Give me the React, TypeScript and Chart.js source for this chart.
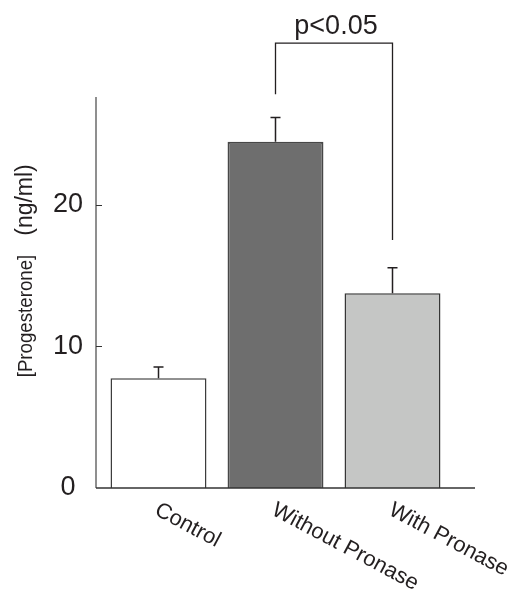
import React, { useEffect, useRef } from "react";
import { Chart, registerables } from "chart.js";

Chart.register(...registerables);

const categories = ["Control", "Without Pronase", "With Pronase"];
const means = [7.75, 24.45, 13.75];
const errors = [0.8, 1.7, 1.8];
const yTicks = [0, 10, 20];
const yMax = 27.6;
const barColors = ["#ffffff", "#6e6e6e", "#c5c6c5"];
const barBorders = ["#3d3d3d", "#474747", "#363636"];
const sigPair = [1, 2];
const sigLabel = "p<0.05";
const sigTopValue = 31.4;
const sigLeftBottom = 27.8;
const sigRightBottom = 17.5;
const yTitleMain = "[Progesterone]";
const yTitleUnit = "(ng/ml)";

const FONT = "'Liberation Sans', Arial, Helvetica, sans-serif";
const TEXT = "#231f20";
const AXIS_X = 96;

const decorPlugin = {
  id: "decor",
  afterDraw(chart: any) {
    const { ctx, chartArea, scales } = chart;
    const xs = scales.x;
    const ys = scales.y;
    ctx.save();

    const y0 = ys.getPixelForValue(0);

    // y axis line
    ctx.strokeStyle = "#6a6a6a";
    ctx.lineWidth = 1.5;
    ctx.beginPath();
    ctx.moveTo(AXIS_X, chartArea.top);
    ctx.lineTo(AXIS_X, y0);
    ctx.stroke();

    // baseline (x axis), extends past last bar
    ctx.strokeStyle = "#333";
    ctx.lineWidth = 1.5;
    ctx.beginPath();
    ctx.moveTo(AXIS_X, y0);
    ctx.lineTo(chartArea.right + 24, y0);
    ctx.stroke();

    // inward tick marks on y axis
    ctx.lineWidth = 1;
    yTicks.forEach((v) => {
      if (v === 0) return;
      const py = Math.round(ys.getPixelForValue(v)) + 0.5;
      ctx.beginPath();
      ctx.moveTo(AXIS_X, py);
      ctx.lineTo(AXIS_X + 6, py);
      ctx.stroke();
    });

    // y axis title (two parts)
    ctx.fillStyle = TEXT;
    ctx.textAlign = "center";
    ctx.textBaseline = "middle";
    ctx.save();
    ctx.translate(26, 316);
    ctx.rotate(-Math.PI / 2);
    ctx.scale(0.89, 1);
    ctx.font = `21px ${FONT}`;
    ctx.fillText(yTitleMain, 0, 0);
    ctx.restore();
    ctx.save();
    ctx.translate(26, 200);
    ctx.rotate(-Math.PI / 2);
    ctx.font = `23px ${FONT}`;
    ctx.fillText(yTitleUnit, 0, 0);
    ctx.restore();

    // error bars (upper only)
    const meta = chart.getDatasetMeta(0);
    ctx.strokeStyle = "#231f20";
    ctx.lineWidth = 1.5;
    meta.data.forEach((bar: any, i: number) => {
      const cx = bar.x;
      const top = ys.getPixelForValue(means[i]);
      const et = ys.getPixelForValue(means[i] + errors[i]);
      ctx.beginPath();
      ctx.moveTo(cx, top);
      ctx.lineTo(cx, et);
      ctx.moveTo(cx - 5, et);
      ctx.lineTo(cx + 5, et);
      ctx.stroke();
    });

    // significance bracket
    const lx = xs.getPixelForValue(sigPair[0]);
    const rx = xs.getPixelForValue(sigPair[1]);
    const ty = ys.getPixelForValue(sigTopValue);
    ctx.lineWidth = 1.3;
    ctx.beginPath();
    ctx.moveTo(lx, ys.getPixelForValue(sigLeftBottom));
    ctx.lineTo(lx, ty);
    ctx.lineTo(rx, ty);
    ctx.lineTo(rx, ys.getPixelForValue(sigRightBottom));
    ctx.stroke();
    ctx.fillStyle = TEXT;
    ctx.font = `27px ${FONT}`;
    ctx.textAlign = "center";
    ctx.textBaseline = "alphabetic";
    ctx.fillText(sigLabel, (lx + rx) / 2 + 2, ty - 9);

    // rotated category labels (clockwise)
    ctx.font = `22px ${FONT}`;
    ctx.textAlign = "left";
    ctx.textBaseline = "top";
    categories.forEach((c, i) => {
      const cx = xs.getPixelForValue(i);
      ctx.save();
      ctx.translate(cx + 3, y0 + 11);
      ctx.rotate((28 * Math.PI) / 180);
      ctx.fillText(c, 0, 0);
      ctx.restore();
    });

    ctx.restore();
  },
};

export default function App() {
  const ref = useRef<HTMLCanvasElement>(null);
  useEffect(() => {
    if (!ref.current) return;
    const chart = new Chart(ref.current, {
      type: "bar",
      data: {
        labels: categories,
        datasets: [
          {
            data: means,
            backgroundColor: barColors,
            borderColor: barBorders,
            borderWidth: [1.5, 2, 1.5],
            borderSkipped: "start",
            barPercentage: 0.82,
            categoryPercentage: 1,
          },
        ],
      },
      options: {
        responsive: false,
        animation: false,
        events: [],
        layout: { padding: { top: 97, right: 66, left: 0, bottom: 0 } },
        plugins: { legend: { display: false }, tooltip: { enabled: false } },
        scales: {
          x: {
            type: "category",
            grid: { display: false, drawTicks: false },
            border: { display: false },
            ticks: { display: false },
            afterFit: (s: any) => {
              s.height = 107;
            },
          },
          y: {
            min: 0,
            max: yMax,
            afterBuildTicks: (s: any) => {
              s.ticks = yTicks.map((v) => ({ value: v }));
            },
            afterFit: (s: any) => {
              s.width = 100;
            },
            grid: { display: false, drawTicks: false },
            border: { display: false },
            ticks: {
              padding: 17,
              crossAlign: "center",
              color: TEXT,
              font: { family: FONT, size: 27 },
            },
          },
        },
      },
      plugins: [decorPlugin],
    });
    return () => chart.destroy();
  }, []);
  return (
    <div style={{ position: "absolute", left: 0, top: 0, width: 517, height: 595, background: "#fff" }}>
      <canvas ref={ref} width={517} height={595} />
    </div>
  );
}
